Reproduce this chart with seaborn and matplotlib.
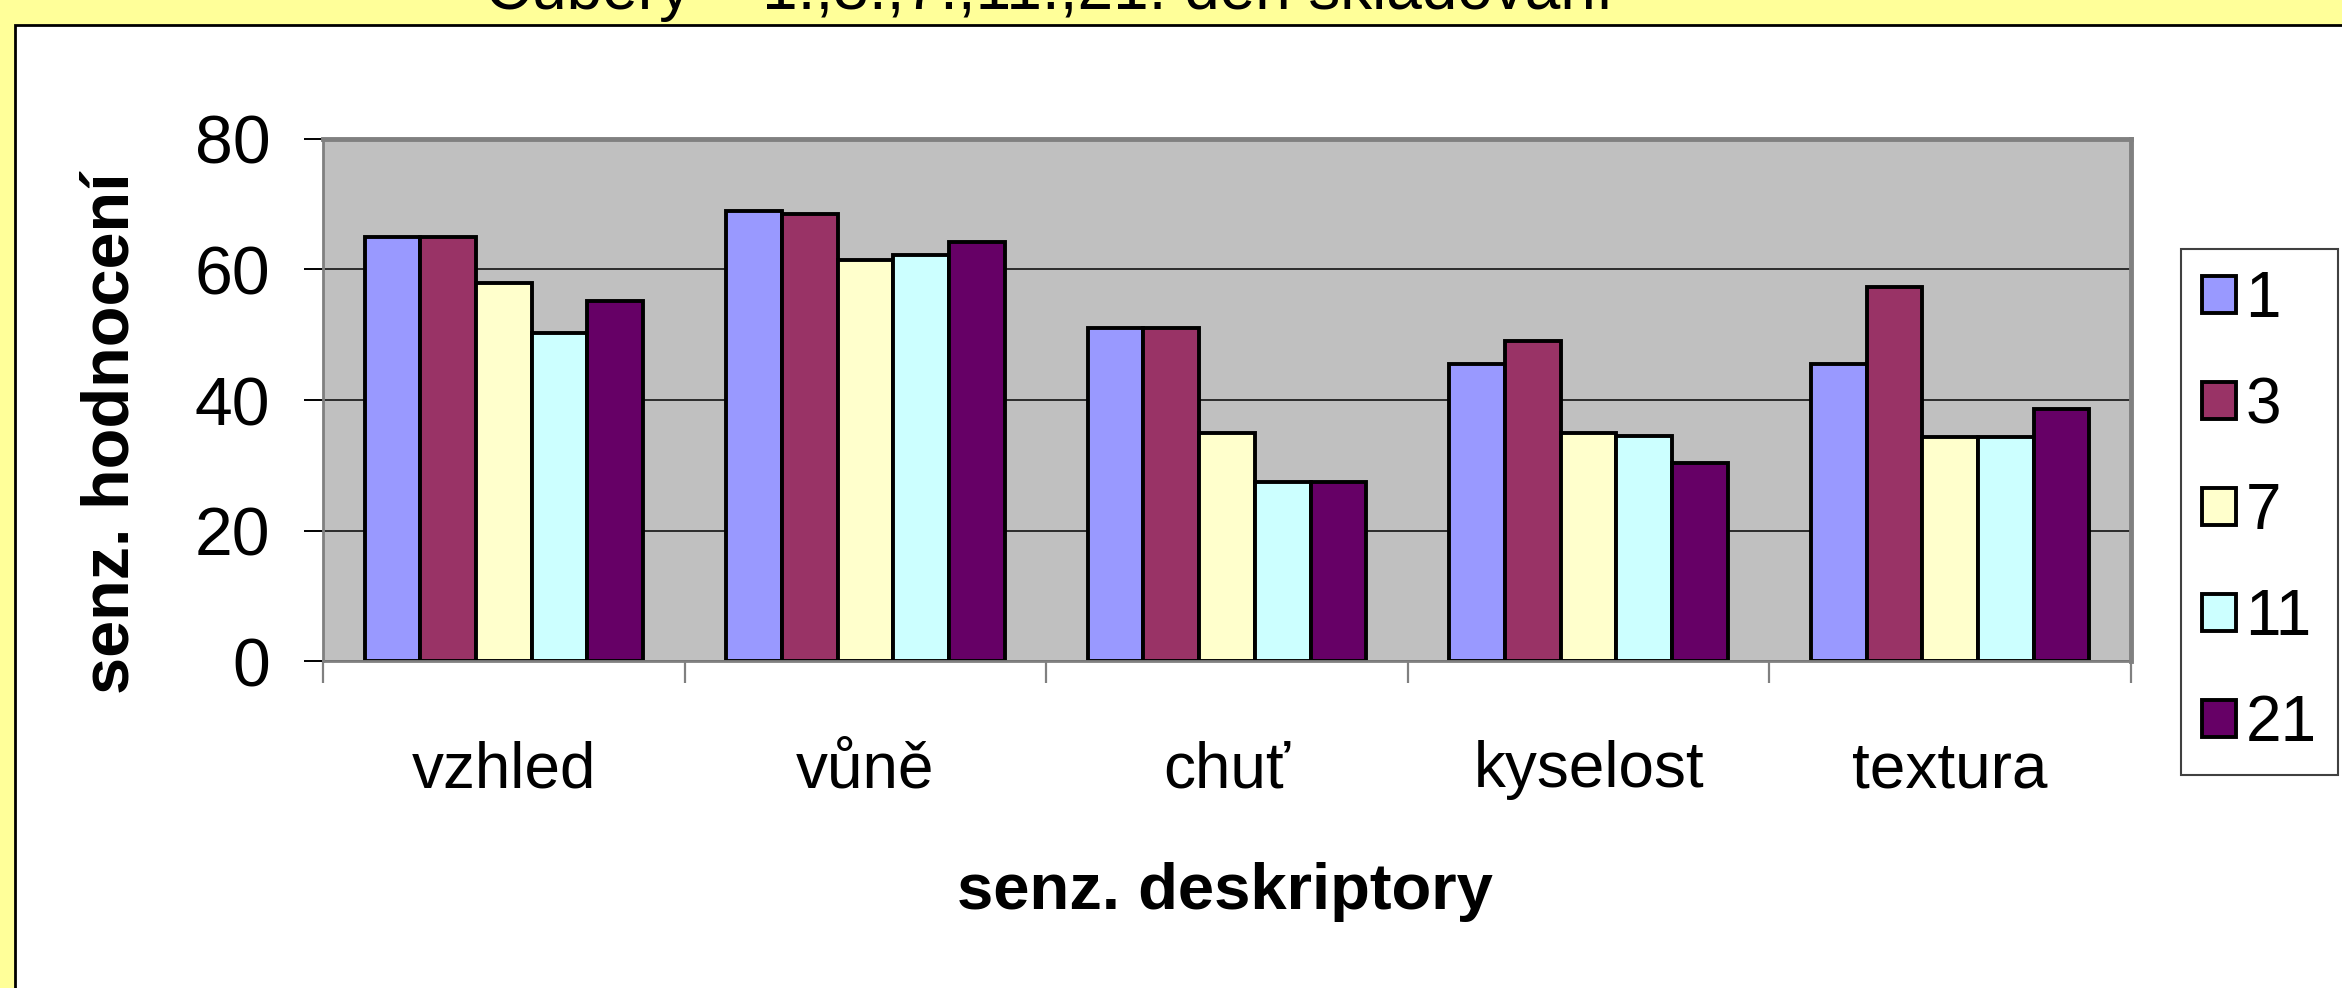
import pandas as pd
import seaborn as sns
import matplotlib.pyplot as plt
from matplotlib.patches import Patch, Rectangle

# data
categories = ['vzhled', 'vůně', 'chuť', 'kyselost', 'textura']
days = ['1', '3', '7', '11', '21']
day1 = [65, 69, 51, 45.5, 45.5]
day3 = [65, 68.5, 51, 49, 57.3]
day7 = [58, 61.5, 35, 35, 34.4]
day11 = [50.3, 62.2, 27.5, 34.5, 34.4]
day21 = [55.2, 64.2, 27.5, 30.3, 38.6]
colors = ['#9999FF', '#993366', '#FFFFCC', '#CCFFFF', '#660066']
title = 'Čubery – 1.,3.,7.,11.,21. den skladování'

rows = []
for d, vals in zip(days, [day1, day3, day7, day11, day21]):
    for c, v in zip(categories, vals):
        rows.append({'deskriptor': c, 'den': d, 'hodnota': v})
df = pd.DataFrame(rows)

sns.set_style('ticks')
plt.rcParams['font.family'] = ['Liberation Sans', 'DejaVu Sans']
plt.rcParams['text.color'] = 'black'
plt.rcParams['axes.labelcolor'] = 'black'
plt.rcParams['xtick.color'] = 'black'
plt.rcParams['ytick.color'] = 'black'

W, H = 2342, 988
fig = plt.figure(figsize=(W / 100, H / 100), dpi=100)
fig.patch.set_facecolor('#FFFF99')

# white chart area with black border (behind the axes)
fig.patches.append(Rectangle((15 / W, -0.02), 1.0, 1 - 25 / H + 0.02, transform=fig.transFigure,
                             facecolor='white', edgecolor='black', linewidth=2, zorder=-10))

ax = fig.add_axes([323 / W, 1 - 661 / H, (2131 - 323) / W, (661 - 139) / H])
ax.set_facecolor('#C0C0C0')

sns.barplot(data=df, x='deskriptor', y='hodnota', hue='den', hue_order=days,
            palette=colors, width=0.77, saturation=1, edgecolor='black',
            linewidth=2.8, ax=ax, legend=False)

ax.set_ylim(0, 80)
ax.set_xlim(-0.5, 4.5)
ax.set_yticks([0, 20, 40, 60, 80])
ax.yaxis.grid(True, color='#202020', linewidth=1.3)
ax.set_axisbelow(True)

ax.tick_params(axis='y', labelsize=49, length=14, width=1.4, color='black', pad=24)
ax.tick_params(axis='x', which='major', labelsize=46, length=0, pad=57)
ax.set_xticks([-0.5, 0.5, 1.5, 2.5, 3.5, 4.5], minor=True)
ax.tick_params(axis='x', which='minor', length=16, width=1.6, color='#808080')

for side in ['top', 'right']:
    ax.spines[side].set_color('#808080')
    ax.spines[side].set_linewidth(3.5)
for side in ['left', 'bottom']:
    ax.spines[side].set_color('#808080')
    ax.spines[side].set_linewidth(2)

ax.set_ylabel('senz. hodnocení', fontsize=48, fontweight='bold')
ax.yaxis.set_label_coords(-0.10, 0.437)
ax.set_xlabel('senz. deskriptory', fontsize=47, fontweight='bold')
ax.xaxis.set_label_coords(0.499, -0.4425)
ax.xaxis.label.set_va('center')

handles = [Patch(facecolor=c, edgecolor='black', linewidth=2.8) for c in colors]
leg = fig.legend(handles, days, loc='upper left', bbox_to_anchor=(2181 / W, 1 - 249 / H),
                 fontsize=46, frameon=True, fancybox=False, framealpha=1,
                 borderpad=0.33, labelspacing=0.72, handlelength=0.53, handleheight=0.53,
                 handletextpad=0.15, borderaxespad=0)
leg.get_frame().set_edgecolor('#404040')
leg.get_frame().set_linewidth(1.5)

fig.text(0.448, 1 - 9 / H, title, ha='center', va='baseline', fontsize=46)

fig.savefig('out.png', dpi=100, facecolor=fig.get_facecolor())
